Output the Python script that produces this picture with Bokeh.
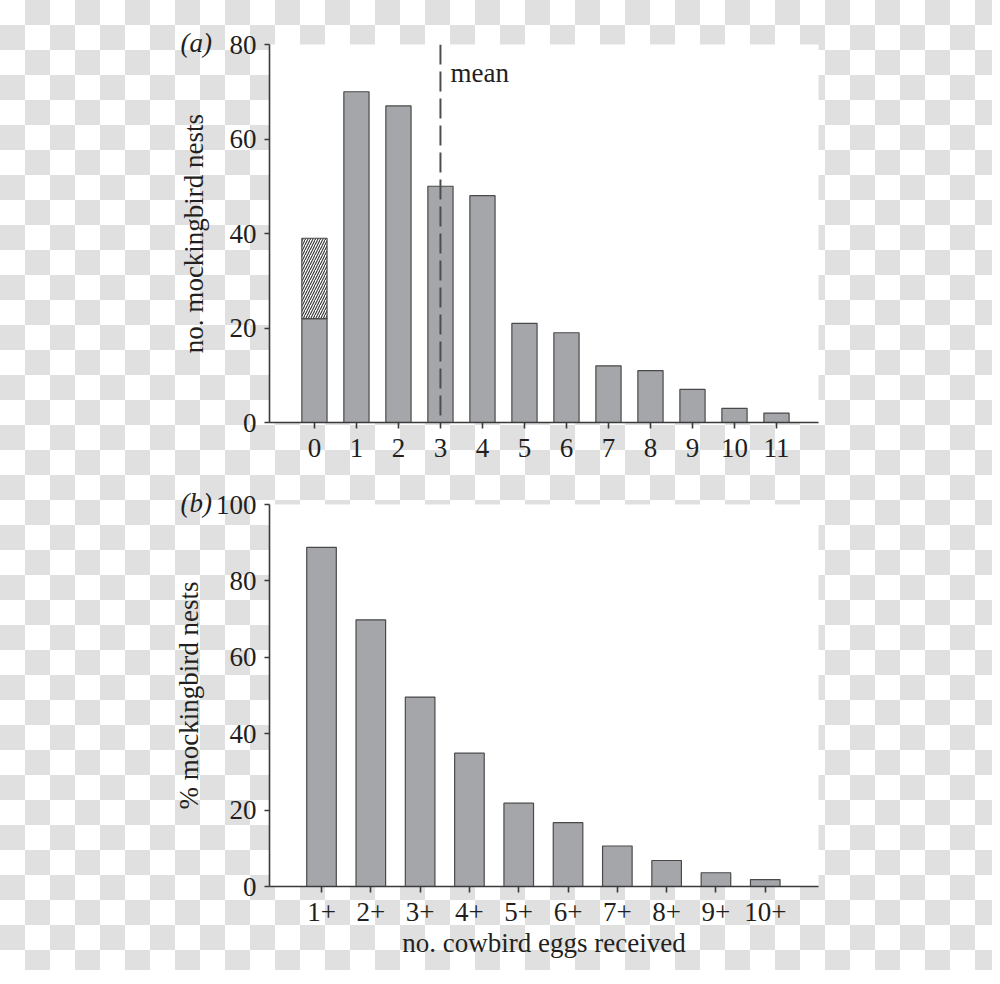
from bokeh.plotting import figure
from bokeh.layouts import column
from bokeh.models import Range1d, Span, Label, FixedTicker, Title
from bokeh.embed import file_html
from bokeh.resources import INLINE

# ---------------- data ----------------
eggs_a = [0, 1, 2, 3, 4, 5, 6, 7, 8, 9, 10, 11]
nests_a = [22, 70, 67, 50, 48, 21, 19, 12, 11, 7, 3, 2]
hatched_extra = [17]          # nests with 0 eggs, hatched part (22 -> 39)
mean_eggs = 3.0

labels_b = ["1+", "2+", "3+", "4+", "5+", "6+", "7+", "8+", "9+", "10+"]
pct_b = [88.8, 69.8, 49.6, 34.9, 21.8, 16.7, 10.6, 6.8, 3.6, 1.8]
pos_b = list(range(1, len(labels_b) + 1))

FONT = "Liberation Serif"
FS = "27px"
TXT = "#231f20"
BAR = "#a4a6aa"
EDGE = "#4a4a4a"
AX = "#3a3a3a"


def style(p):
    p.background_fill_color = "white"
    p.border_fill_alpha = 0
    p.outline_line_color = None
    p.xgrid.visible = False
    p.ygrid.visible = False
    for ax in (p.xaxis[0], p.yaxis[0]):
        ax.axis_line_color = AX
        ax.axis_line_width = 1.6
        ax.major_tick_line_color = AX
        ax.major_tick_line_width = 1.6
        ax.minor_tick_line_color = None
        ax.major_tick_in = 0
        ax.major_label_text_font = FONT
        ax.major_label_text_font_size = FS
        ax.major_label_text_color = TXT
        ax.axis_label_text_font = FONT
        ax.axis_label_text_font_size = FS
        ax.axis_label_text_font_style = "normal"
        ax.axis_label_text_color = TXT
    p.yaxis[0].major_tick_out = 5
    p.yaxis[0].major_label_standoff = 8
    p.xaxis[0].major_tick_out = 6
    p.xaxis[0].major_label_standoff = 10


def panel_tag(p, tag):
    p.add_layout(Title(text=tag, align="left", offset=-89, text_font=FONT,
                       text_font_size=FS, text_font_style="italic",
                       text_color=TXT, standoff=-26), "above")


# ---------------- panel (a) ----------------
pa = figure(width=992, height=470, output_backend="svg", toolbar_location=None,
            x_range=Range1d(-1.07, 12.0), y_range=Range1d(0, 80),
            min_border_left=269, min_border_right=174,
            min_border_top=44, min_border_bottom=48)
style(pa)
pa.vbar(x=eggs_a, top=nests_a, bottom=0, width=0.6, fill_color=BAR,
        line_color=EDGE, line_width=1.2)
pa.vbar(x=eggs_a[:1], bottom=nests_a[:1],
        top=[nests_a[0] + hatched_extra[0]], width=0.6,
        fill_color="white", line_color=EDGE, line_width=1.2,
        hatch_pattern="right_diagonal_line", hatch_color="#333333",
        hatch_scale=5, hatch_weight=1.1)
pa.add_layout(Span(location=mean_eggs, dimension="height", line_color="#4d4d4d",
                   line_width=2, line_dash="20 7"))
pa.add_layout(Label(x=mean_eggs, y=74, x_offset=10, text="mean", text_font=FONT,
                    text_font_size=FS, text_color=TXT,
                    text_baseline="middle", text_align="left"))
pa.xaxis.ticker = FixedTicker(ticks=eggs_a)
pa.yaxis.ticker = FixedTicker(ticks=[0, 20, 40, 60, 80])
pa.yaxis.axis_label = "no. mockingbird nests"
pa.yaxis.axis_label_standoff = 18
panel_tag(pa, "(a)")

# ---------------- panel (b) ----------------
pb = figure(width=992, height=500, output_backend="svg", toolbar_location=None,
            x_range=Range1d(-0.055, 11.08), y_range=Range1d(0, 100),
            min_border_left=269, min_border_right=174,
            min_border_top=34, min_border_bottom=84)
style(pb)
pb.vbar(x=pos_b, top=pct_b, bottom=0, width=0.6, fill_color=BAR,
        line_color=EDGE, line_width=1.2)
pb.xaxis.ticker = FixedTicker(ticks=pos_b)
pb.xaxis.major_label_overrides = {i: s for i, s in zip(pos_b, labels_b)}
pb.yaxis.ticker = FixedTicker(ticks=[0, 20, 40, 60, 80, 100])
pb.yaxis.axis_label = "% mockingbird nests"
pb.yaxis.axis_label_standoff = 9
pb.xaxis.axis_label = "no. cowbird eggs received"
pb.xaxis.axis_label_standoff = 4
panel_tag(pb, "(b)")

layout = column(pa, pb, spacing=0, styles={
    "background": "repeating-conic-gradient(#e0e0e0 0 25%, #ffffff 0 50%) 0 0 / 50px 50px"
})

open("out.html", "w").write(file_html(layout, INLINE))
